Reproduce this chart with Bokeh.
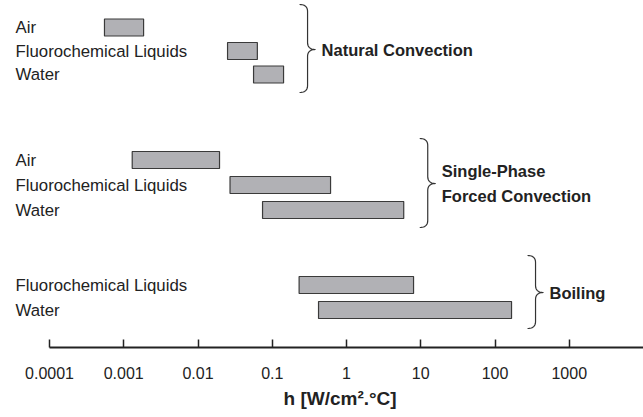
import numpy as np
from bokeh.plotting import figure
from bokeh.models import Range1d, FixedTicker, Title
from bokeh.core.properties import value
from bokeh.embed import file_html
from bokeh.resources import INLINE

# ---------------- data ----------------
groups = ["Natural Convection", "Single-Phase Forced Convection", "Boiling"]
group_titles = [["Natural Convection"], ["Single-Phase", "Forced Convection"], ["Boiling"]]
fluids = [["Air", "Fluorochemical Liquids", "Water"],
          ["Air", "Fluorochemical Liquids", "Water"],
          ["Fluorochemical Liquids", "Water"]]
h_low = [[0.00055, 0.025, 0.056],
         [0.0013, 0.027, 0.074],
         [0.23, 0.42]]
h_high = [[0.00185, 0.063, 0.142],
          [0.0195, 0.61, 5.9],
          [8.0, 167.0]]
tick_values = [1e-4, 1e-3, 1e-2, 1e-1, 1, 10, 100, 1000]
tick_labels = ["0.0001", "0.001", "0.01", "0.1", "1", "10", "100", "1000"]
x_title = "h [W/cm².°C]"

# ---------------- layout (pixels) ----------------
W, H = 643, 417
FRAME_H = 347
PX_PER_DEC = 74.25
AXIS_START_PX = 49
row_y = [[27, 50.5, 74], [159.5, 184.5, 209.5], [284.5, 309.5]]
brace_top = [4, 138, 255]
brace_bot = [92, 227, 328]
brace_mid = [49, 183, 292]
BRACE_GAP = 24
BRACE_W = 8
BRACE_R = 7
BAR_H = 17
TITLE_LEFT_PX = 283
FONT = "Liberation Sans"

x_start = 1e-4 / 10 ** (AXIS_START_PX / PX_PER_DEC)
x_end = 1e4

p = figure(width=W, height=H, x_axis_type="log",
           x_range=Range1d(x_start, x_end), y_range=Range1d(FRAME_H, 0),
           y_axis_location=None, toolbar_location=None, output_backend="svg",
           min_border_left=0, min_border_right=0, min_border_top=0,
           min_border_bottom=H - FRAME_H, outline_line_color=None,
           background_fill_color="white", border_fill_color="white")
p.grid.visible = False

# bars
ys, lefts, rights, names = [], [], [], []
for g in range(len(groups)):
    for i, f in enumerate(fluids[g]):
        ys.append(row_y[g][i])
        lefts.append(h_low[g][i])
        rights.append(h_high[g][i])
        names.append(f)

p.hbar(y=ys, left=lefts, right=rights, height=BAR_H,
       fill_color="#b1b1b5", line_color="#3a3a3a", line_width=1.2)

# row labels
p.text(x=[x_start] * len(ys), y=ys, text=names, x_offset=15,
       text_font=value(FONT), text_font_size="16.8px", text_color="#222222",
       text_align="left", text_baseline="middle")


# braces
def quad(p0, c, p1, n=12):
    t = np.linspace(0, 1, n)
    x = (1 - t) ** 2 * p0[0] + 2 * (1 - t) * t * c[0] + t ** 2 * p1[0]
    y = (1 - t) ** 2 * p0[1] + 2 * (1 - t) * t * c[1] + t ** 2 * p1[1]
    return list(x), list(y)


bxs, bys = [], []
gx, gy, gt = [], [], []
for g in range(len(groups)):
    xmax = max(h_high[g])
    xv = BRACE_GAP
    top, bot, mid = brace_top[g], brace_bot[g], brace_mid[g]
    px, py = [], []
    for seg in [quad((xv - BRACE_W, top), (xv, top), (xv, top + BRACE_R)),
                quad((xv, mid - BRACE_R), (xv, mid), (xv + BRACE_W, mid)),
                quad((xv + BRACE_W, mid), (xv, mid), (xv, mid + BRACE_R)),
                quad((xv, bot - BRACE_R), (xv, bot), (xv - BRACE_W, bot))]:
        px += seg[0]
        py += seg[1]
    bxs.append([xmax * 10 ** (d / PX_PER_DEC) for d in px])
    bys.append(py)
    tip = xmax * 10 ** ((xv + BRACE_W) / PX_PER_DEC)
    lines = group_titles[g]
    n = len(lines)
    for k, t in enumerate(lines):
        gx.append(tip)
        gy.append(mid + (k - (n - 1) / 2) * 25)
        gt.append(t)

p.multi_line(xs=bxs, ys=bys, line_color="#333333", line_width=1.2)
p.text(x=gx, y=gy, text=gt, x_offset=6,
       text_font=value(FONT), text_font_size="16.5px", text_font_style="bold",
       text_color="#222222", text_align="left", text_baseline="middle")

# axis
ax = p.xaxis[0]
ax.ticker = FixedTicker(ticks=tick_values)
ax.major_label_overrides = {v: s for v, s in zip(tick_values, tick_labels)}
ax.bounds = (1e-4, 1e4)
ax.axis_line_color = "#222222"
ax.axis_line_width = 2
ax.major_tick_in = 8
ax.major_tick_out = 0
ax.major_tick_line_color = "#222222"
ax.major_tick_line_width = 1.5
ax.minor_tick_line_color = None
ax.major_label_standoff = 19
ax.major_label_text_font = FONT
ax.major_label_text_font_size = "16px"
ax.major_label_text_color = "#222222"

# axis title, under the middle of the axis span
title = Title(text=x_title, align="left", offset=TITLE_LEFT_PX, standoff=8,
              text_font=FONT, text_font_size="19px", text_font_style="bold",
              text_color="#222222")
p.add_layout(title, "below")

open("out.html", "w").write(file_html(p, INLINE))
